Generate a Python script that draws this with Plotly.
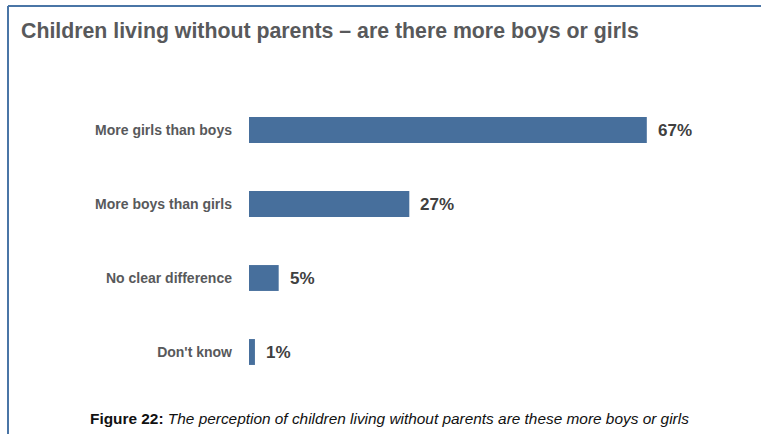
import plotly.graph_objects as go

categories = ["More girls than boys", "More boys than girls", "No clear difference", "Don't know"]
values = [67, 27, 5, 1]
value_labels = ["67%", "27%", "5%", "1%"]

W, H = 761, 434
L, R, T, B = 249, 37, 93, 45
PW, PH = W - L - R, H - T - B

def px(x):
    return (x - L) / PW

def py(y):
    return (H - B - y) / PH

bar_color = "#476f9c"
label_color = "#58595b"
narrow = "Liberation Sans Narrow, Arial Narrow, Liberation Sans, Arial, sans-serif"

fig = go.Figure(go.Bar(
    x=values, y=categories, orientation="h",
    marker=dict(color=bar_color, line=dict(width=0)),
    width=0.35, hoverinfo="skip",
))

annotations = []
for v, c, t in zip(values, categories, value_labels):
    annotations.append(dict(x=v, y=c, xref="x", yref="y", text=t, showarrow=False,
                            xanchor="left", yanchor="middle", xshift=9,
                            font=dict(family="Liberation Sans, Arial, sans-serif", size=17,
                                      color="#404040", weight="bold")))

annotations.append(dict(x=px(19), y=py(31), xref="paper", yref="paper", showarrow=False,
                        xanchor="left", yanchor="middle",
                        text="<b>Children living without parents – are there more boys or girls</b>",
                        font=dict(family=narrow, size=21.3, color=label_color)))
annotations.append(dict(x=px(88), y=py(418), xref="paper", yref="paper", showarrow=False,
                        xanchor="left", yanchor="middle",
                        text="<b>Figure 22:</b> <i>The perception of children living without parents are these more boys or girls</i>",
                        font=dict(family="Liberation Sans, Arial, sans-serif", size=15.4, color="#111111")))

frame = "#4a75a6"
shapes = [
    dict(type="line", xref="paper", yref="paper", x0=px(8), x1=px(761), y0=py(6), y1=py(6),
         line=dict(color=frame, width=2)),
    dict(type="line", xref="paper", yref="paper", x0=px(8), x1=px(8), y0=py(6), y1=py(434),
         line=dict(color=frame, width=2)),
]

fig.update_layout(
    width=W, height=H,
    margin=dict(l=L, r=R, t=T, b=B, pad=0),
    paper_bgcolor="white", plot_bgcolor="white",
    showlegend=False,
    xaxis=dict(range=[0, 80], visible=False, fixedrange=True),
    yaxis=dict(autorange="reversed", showgrid=False, zeroline=False, showline=False,
               ticks="", ticklabelstandoff=16, fixedrange=True,
               tickfont=dict(family=narrow, size=14, color=label_color, weight="bold")),
    annotations=annotations,
    shapes=shapes,
)

fig.write_html("out.html", config={"displayModeBar": False},
               post_script="document.body.style.margin='0';document.body.style.overflow='hidden';")
